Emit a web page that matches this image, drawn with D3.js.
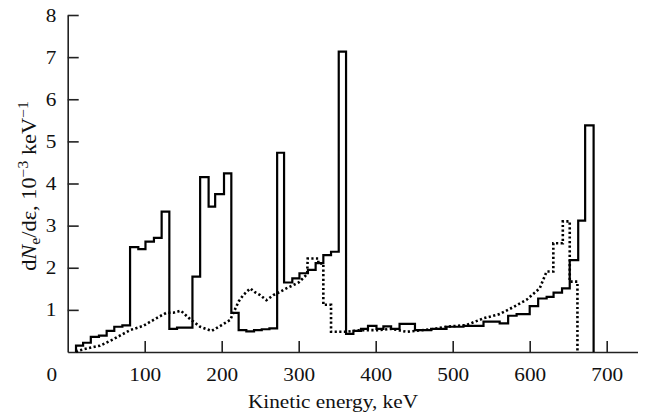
<!DOCTYPE html>
<html lang="en">
<head>
    <meta charset="UTF-8">
    <title>Electron spectrum</title>
    <style>
        body { margin: 0; background: #fff; }
        svg text { font-family: "Liberation Serif", "DejaVu Serif", serif; fill: #111; }
        .wide { transform-box: fill-box; transform-origin: center; transform: scaleX(1.12); }
        .axis path, .axis line { stroke: #222; stroke-width: 1.6; }
        .axis text { font-size: 19px; font-family: "Liberation Serif", serif; fill: #111; }
    </style>
</head>
<body>
<script src="https://d3js.org/d3.v7.min.js"></script>
<script>
    // solid histogram: bin edges (keV) and heights (10^-3 keV^-1)
    var solidEdges = [10.8, 20, 30, 40.6, 50.6, 60.5, 71, 81, 91.7, 101, 112, 122, 132, 142, 162,
        172, 183, 191.5, 203, 212.5, 222, 232, 242, 252, 262, 272, 281, 291.7, 301, 312, 322,
        332, 342, 352, 361.5, 371, 381, 390, 401, 410, 420, 431, 451, 472, 492, 514, 540,
        561, 572, 583, 600, 611, 622, 631, 642, 652, 663, 672, 683];
    var solidValues = [0.15, 0.22, 0.36, 0.39, 0.50, 0.60, 0.63, 2.49, 2.44, 2.62, 2.71, 3.33, 0.55, 0.58,
        1.79, 4.15, 3.45, 3.75, 4.24, 0.93, 0.52, 0.49, 0.52, 0.54, 0.56, 4.73, 1.65, 1.75,
        1.87, 1.95, 2.11, 2.30, 2.38, 7.13, 0.43, 0.50, 0.55, 0.62, 0.55, 0.61, 0.55, 0.67,
        0.52, 0.55, 0.60, 0.62, 0.72, 0.68, 0.86, 0.90, 1.09, 1.27, 1.31, 1.41, 1.51, 2.18,
        3.12, 5.38];

    // dotted curve: energy (keV) and value
    var dotEnergy = [10.8, 13, 29, 42, 59, 81, 98, 115, 128, 137, 147, 159, 172, 187, 200, 211, 214,
        222, 228, 237, 243, 250, 258, 267, 276, 284, 300, 311, 311.7, 325.5, 325.5, 332, 332,
        342, 342, 362, 380, 405, 420, 440, 473, 492, 518, 540, 561, 578, 596, 613, 622,
        630.7, 630.7, 643, 643, 652, 652, 662, 662];
    var dotValues = [0, 0.03, 0.1, 0.15, 0.3, 0.52, 0.62, 0.8, 0.93, 0.93, 0.98, 0.78, 0.6, 0.5, 0.64,
        0.76, 0.88, 1.2, 1.35, 1.51, 1.42, 1.35, 1.23, 1.35, 1.43, 1.51, 1.65, 1.85, 2.22,
        2.22, 2.1, 2.1, 1.12, 1.12, 0.48, 0.48, 0.52, 0.52, 0.55, 0.48, 0.54, 0.6, 0.64,
        0.8, 0.9, 1.06, 1.24, 1.51, 1.91, 1.91, 2.58, 2.58, 3.1, 3.1, 1.67, 1.67, 0];

    var xTicks = [100, 200, 300, 400, 500, 600, 700];
    var yTicks = [1, 2, 3, 4, 5, 6, 7, 8];

    var width = 647, height = 417;
    var x = d3.scaleLinear().domain([0, 740]).range([67.7, 637.5]);
    var y = d3.scaleLinear().domain([0, 8]).range([352, 15]);

    var svg = d3.select("body").append("svg")
        .attr("width", width)
        .attr("height", height);

    // axes
    svg.append("g")
        .attr("class", "axis")
        .attr("transform", "translate(0," + y(0) + ")")
        .call(d3.axisBottom(x).tickValues(xTicks).tickSize(-11).tickSizeOuter(0).tickPadding(16));

    svg.append("g")
        .attr("class", "axis")
        .attr("transform", "translate(" + x(0) + ",0)")
        .call(d3.axisLeft(y).tickValues(yTicks).tickSize(-11).tickSizeOuter(0).tickPadding(12));

    svg.selectAll(".axis .domain").attr("stroke", "#222");
    svg.selectAll(".axis text").classed("wide", true);

    // origin label
    svg.append("text")
        .attr("class", "wide")
        .attr("x", x(0) - 16)
        .attr("y", y(0) + 16)
        .attr("dy", "0.71em")
        .attr("text-anchor", "middle")
        .style("font-size", "19px")
        .text("0");

    // solid histogram path
    var solidPts = [[solidEdges[0], 0]];
    solidValues.forEach(function (v, i) {
        solidPts.push([solidEdges[i], v]);
        solidPts.push([solidEdges[i + 1], v]);
    });
    solidPts.push([solidEdges[solidEdges.length - 1], 0]);

    var line = d3.line()
        .x(function (d) { return x(d[0]); })
        .y(function (d) { return y(d[1]); });

    svg.append("path")
        .attr("d", line(solidPts))
        .attr("fill", "none")
        .attr("stroke", "#000")
        .attr("stroke-width", 2.2)
        .attr("stroke-linejoin", "miter");

    // dotted curve
    var dotPts = dotEnergy.map(function (e, i) { return [e, dotValues[i]]; });
    svg.append("path")
        .attr("d", line(dotPts))
        .attr("fill", "none")
        .attr("stroke", "#000")
        .attr("stroke-width", 2.6)
        .attr("stroke-dasharray", "2.2,2.4");

    // axis titles
    svg.append("text")
        .attr("class", "wide")
        .attr("x", 333)
        .attr("y", 408)
        .attr("text-anchor", "middle")
        .style("font-size", "19px")
        .text("Kinetic energy, keV");

    var yl = svg.append("text")
        .attr("transform", "translate(36,186) rotate(-90) scale(1.12,1)")
        .attr("text-anchor", "middle")
        .style("font-size", "20px");
    yl.append("tspan").text("d");
    yl.append("tspan").style("font-style", "italic").text("N");
    yl.append("tspan").attr("dy", 4).style("font-size", "14px").text("e");
    yl.append("tspan").attr("dy", -4).text("/d\u03b5, 10");
    yl.append("tspan").attr("dy", -8).style("font-size", "14px").text("\u22123");
    yl.append("tspan").attr("dy", 8).text(" keV");
    yl.append("tspan").attr("dy", -8).style("font-size", "14px").text("\u22121");
</script>
</body>
</html>
